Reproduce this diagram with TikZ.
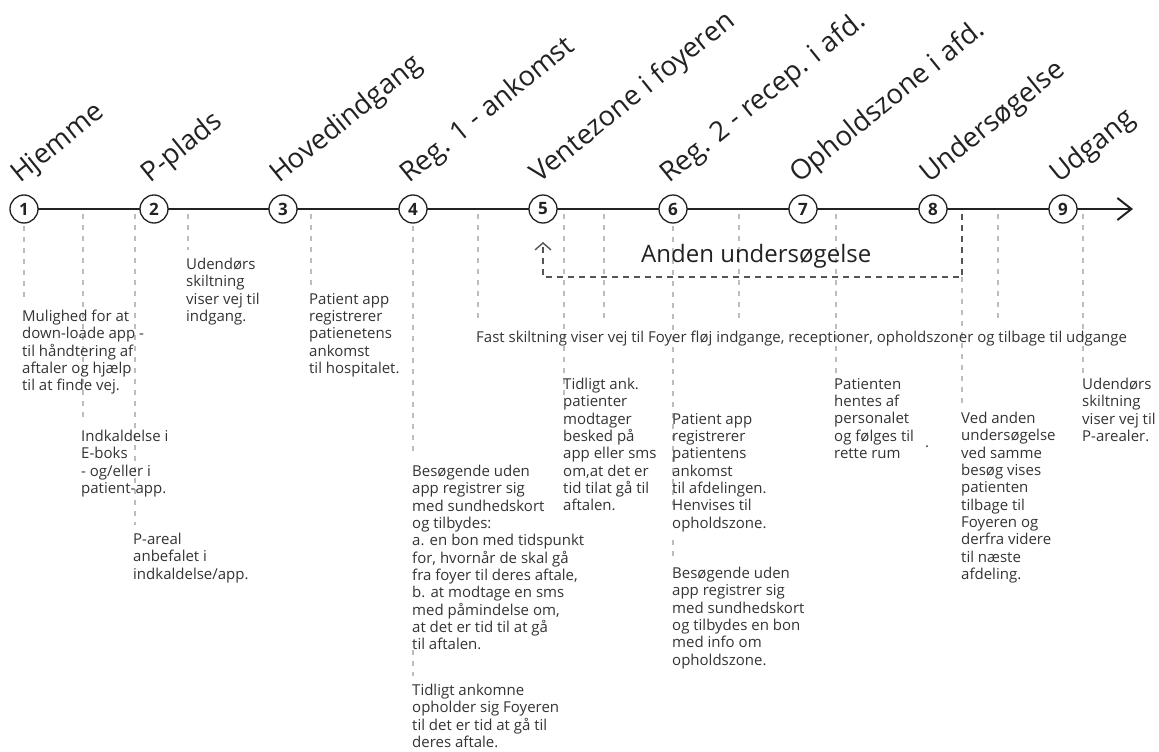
\documentclass[tikz,border=0pt]{standalone}
\usepackage{fontspec}
\setmainfont{Open Sans}
\usetikzlibrary{arrows.meta}
\definecolor{ink}{HTML}{222222}
\definecolor{txtc}{HTML}{333333}
\definecolor{guidec}{HTML}{BDBDBD}
\definecolor{retc}{HTML}{555555}
\begin{document}
\begin{tikzpicture}[x=1pt,y=-1pt,
  stage/.style={circle,draw=ink,line width=1.3pt,fill=white,minimum size=28pt,inner sep=0pt,font=\fontsize{17}{17}\selectfont\bfseries,text=ink},
  head/.style={rotate=39,anchor=base west,inner sep=0pt,font=\fontsize{27.5}{27.5}\selectfont,text=ink},
  body/.style={anchor=north west,inner sep=0pt,align=left,font=\fontsize{15}{17.3}\selectfont,text=txtc},
  guide/.style={draw=guidec,line width=1.1pt,dash pattern=on 5pt off 6pt},
  retpath/.style={draw=retc,line width=1.4pt,dash pattern=on 6pt off 5pt},
  timeline/.style={draw=ink,line width=2pt}]
\useasboundingbox (0,0) rectangle (1159,752);
% guides
\foreach \n/\x/\ya/\yb in {1/24/226/302,2/83/214/422,3/135/214/525,4/188/214/250,5/311/214/285,6/413/226/455,6b/413/650/676,7/478/214/320,8/564/214/395,9/604/214/320,10/673/226/505,10b/673/540/560,11/739/214/320,12/836/214/378,13/962/277/405,14/998/214/320,15/1083/214/376}{
  \coordinate (g\n a) at (\x,\ya);
  \coordinate (g\n b) at (\x,\yb);
  \draw[guide] (g\n a) -- (g\n b);
}
% return path
\coordinate (r1) at (962,214);
\coordinate (r2) at (962,277);
\coordinate (r3) at (543,277);
\coordinate (r4) at (543,242);
\draw[retpath,-{Straight Barb[length=7pt,width=16pt]}] (r1) -- (r2) -- (r3) -- (r4);
\node[anchor=base west,inner sep=0pt,font=\fontsize{24}{24}\selectfont,text=ink] (anden) at (641,262) {Anden undersøgelse};
% timeline
\coordinate (tend) at (1133,209);
\draw[timeline,-{Straight Barb[length=14pt,width=22pt]}] (24,209) coordinate (tstart) -- (tend);
\foreach \i/\x/\lab in {1/24/Hjemme,2/154/P-plads,3/283/Hovedindgang,4/413/Reg. 1 - ankomst,5/543/Ventezone i foyeren,6/673/Reg. 2 - recep. i afd.,7/803/Opholdszone i afd.,8/933/Undersøgelse,9/1063/Udgang}{
  \node[stage] (s\i) at (\x,209) {\i};
  \node[head] (h\i) at (\x-4,184) {\lab};
}
% texts
\node[body] (tA) at (22,310) {Mulighed for at\\down-loade app -\\til håndtering af\\aftaler og hjælp\\til at finde vej.};
\node[body] (tB) at (81,430) {Indkaldelse i\\E-boks\\- og/eller i\\patient-app.};
\node[body] (tC) at (133,533) {P-areal\\anbefalet i\\indkaldelse/app.};
\node[body] (tD) at (186,258) {Udendørs\\skiltning\\viser vej til\\indgang.};
\node[body] (tE) at (309,293) {Patient app\\registrerer\\patienetens\\ankomst\\til hospitalet.};
\node[body] (tF) at (412,465) {Besøgende uden\\app registrer sig\\med sundhedskort\\og tilbydes:\\a. en bon med tidspunkt\\for, hvornår de skal gå\\fra foyer til deres aftale,\\b. at modtage en sms\\med påmindelse om,\\at det er tid til at gå\\til aftalen.};
\node[body] (tG) at (412,684) {Tidligt ankomne\\opholder sig Foyeren\\til det er tid at gå til\\deres aftale.};
\node[body] (tH) at (563,378) {Tidligt ank.\\patienter\\modtager\\besked på\\app eller sms\\om,at det er\\tid tilat gå til\\aftalen.};
\node[body] (tI) at (672,413) {Patient app\\registrerer\\patientens\\ankomst\\til afdelingen.\\Henvises til\\opholdszone.};
\node[body] (tJ) at (672,567) {Besøgende uden\\app registrer sig\\med sundhedskort\\og tilbydes en bon\\med info om\\opholdszone.};
\node[body] (tK) at (834,378) {Patienten\\hentes af\\personalet\\og følges til\\rette rum};
\node[body] (tKdot) at (925,446) {.};
\node[body] (tL) at (961,412) {Ved anden\\undersøgelse\\ved samme\\besøg vises\\patienten\\tilbage til\\Foyeren og\\derfra videre\\til næste\\afdeling.};
\node[body] (tM) at (1082,378) {Udendørs\\skiltning\\viser vej til\\P-arealer.};
\node[body] (tN) at (476,331) {Fast skiltning viser vej til Foyer fløj indgange, receptioner, opholdszoner og tilbage til udgange};
\end{tikzpicture}
\end{document}
